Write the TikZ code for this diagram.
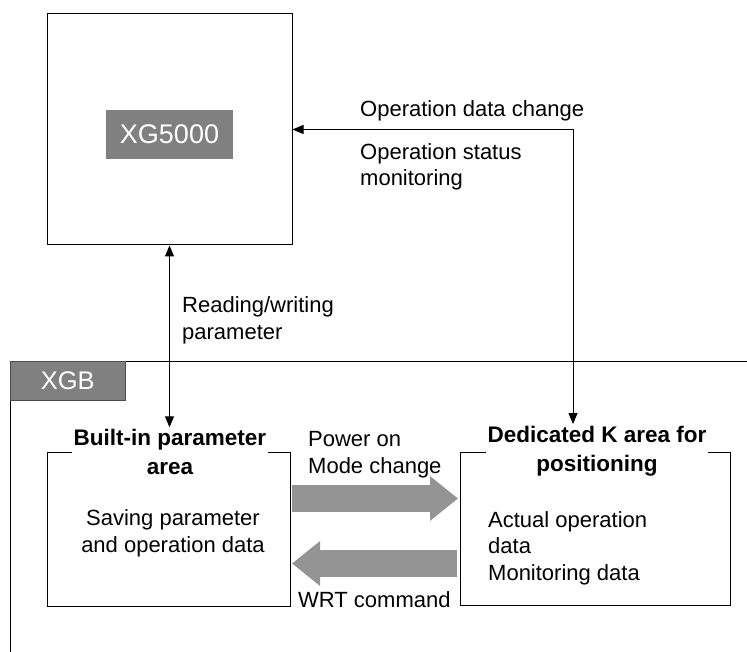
\documentclass[tikz,border=0pt]{standalone}
\usepackage{fontspec}
\setmainfont{Liberation Sans}
\usetikzlibrary{arrows.meta}

\begin{document}
\begin{tikzpicture}[x=1pt, y=-1pt, font=\fontsize{22}{26.5}\selectfont]
\useasboundingbox (0,0) rectangle (747,652);
% styles
\tikzset{panel/.style={draw, line width=1pt, inner sep=0pt},
         tag/.style={draw=black!70, fill=black!50, text=white, inner sep=0pt, font=\fontsize{25.5}{28}\selectfont},
         head/.style={font=\fontsize{22.5}{28.5}\selectfont\bfseries, align=center, fill=white, inner sep=2pt},
         note/.style={anchor=base west, align=left, inner sep=0pt},
         link/.style={line width=1pt, {Triangle[length=11pt, width=9pt]}-{Triangle[length=11pt, width=9pt]}},
         flow/.style={line width=27pt, black!42, -{Triangle[length=28pt, width=43pt]}}}

% ---- XG5000 side
\node[panel, minimum width=245pt, minimum height=231pt] (xg) at (169.5,129.5) {};
\node[tag, draw=none, minimum width=127pt, minimum height=49pt, font=\fontsize{27}{30}\selectfont] (xgtag) at (169.5,134.5) {XG5000};
\node[note] (chg) at (360,116.5) {Operation data change};
\node[note] (mon) at (360,186) {Operation status\\monitoring};
\node[note] (rw) at (182,339) {Reading/writing\\parameter};

% ---- XGB frame
\coordinate (tl) at (10,361);
\coordinate (tr) at (747,361);
\coordinate (bl) at (10,652);
\draw[line width=1pt] (tr) -- (tl) -- (bl);
\node[tag, anchor=north west, minimum width=115pt, minimum height=39pt] (xgb) at (tl) {XGB};

% ===== built-in parameter area
\node[panel, minimum width=243pt, minimum height=154pt] (pb) at (168.5,529) {};
\node[head] (pt) at (170,452) {Built-in parameter\\area};
\node[align=center, anchor=base, inner sep=0pt] (pbody) at (173,552) {Saving parameter\\and operation data};

% ===== dedicated K area
\node[panel, minimum width=270pt, minimum height=153pt] (ka) at (595,528.5) {};
\node[head] (kt) at (597,451) {Dedicated K area for\\positioning};
\node[note] (kbody) at (488,580) {Actual operation\\data\\Monitoring data};

% ---- thin connectors
\draw[link] (xg.south) -- (xg.south |- pt.north);
\draw[link] (xg.east) -| ([xshift=-24pt]kt.north);

% ---- wide transfers
\draw[flow, shorten <=1.5pt, shorten >=1.5pt] ([yshift=30.5pt]pb.east) -- ([yshift=30pt]ka.west);
\draw[flow, shorten <=3pt, shorten >=1.5pt] ([yshift=-35pt]ka.west) -- ([yshift=-34.5pt]pb.east);
\node[note] (pwr) at (308,473) {Power on\\Mode change};
\node[note] (wrt) at (298,607) {WRT command};
\end{tikzpicture}
\end{document}
